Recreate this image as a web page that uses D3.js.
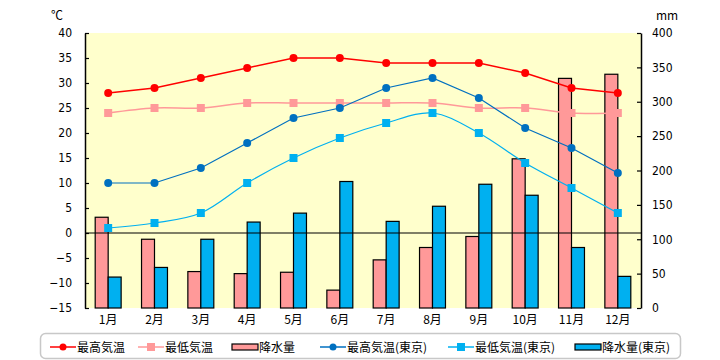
<!DOCTYPE html>
<html><head><meta charset="utf-8">
<script src="https://cdn.jsdelivr.net/npm/d3@7"></script>
<style>
html,body{margin:0;padding:0;background:#fff;}
svg{display:block;font-family:"Noto Sans CJK JP","DejaVu Sans",sans-serif;}
</style></head>
<body><svg id="c" width="720" height="360"></svg>
<script>
const months = ["1月","2月","3月","4月","5月","6月","7月","8月","9月","10月","11月","12月"];
const maxTemp = [28,29,31,33,35,35,34,34,34,32,29,28];
const minTemp = [24,25,25,26,26,26,26,26,25,25,24,24];
const rain = [132,100,53,50,52,26,70,88,104,217,334,340];
const maxTempTokyo = [10,10,13,18,23,25,29,31,27,21,17,12];
const minTempTokyo = [1,2,4,10,15,19,22,24,20,14,9,4];
const rainTokyo = [45,59,100,125,138,184,126,148,180,164,88,46];
const tempTicks = [-15,-10,-5,0,5,10,15,20,25,30,35,40];
const rainTicks = [0,50,100,150,200,250,300,350,400];

const svg = d3.select("#c");
const L=85, R=641, T=33, B=308;
const x = d3.scaleBand().domain(months).range([L,R]).padding(0);
const yT = d3.scaleLinear().domain([-15,40]).range([B,T]);
const yR = d3.scaleLinear().domain([0,400]).range([B,T]);
const bw = x.bandwidth();
const cx = m => x(m)+bw/2;
const barW = bw*0.28;

svg.append("rect").attr("x",L).attr("y",T).attr("width",R-L).attr("height",B-T).attr("fill","#FFFFCC");

// bars
svg.append("g").selectAll("rect").data(months).join("rect")
  .attr("x",m=>cx(m)-barW).attr("width",barW)
  .attr("y",(m,i)=>yR(rain[i])).attr("height",(m,i)=>yR(0)-yR(rain[i]))
  .attr("fill","#FF9999").attr("stroke","#000").attr("stroke-width",1.2);
svg.append("g").selectAll("rect").data(months).join("rect")
  .attr("x",m=>cx(m)).attr("width",barW)
  .attr("y",(m,i)=>yR(rainTokyo[i])).attr("height",(m,i)=>yR(0)-yR(rainTokyo[i]))
  .attr("fill","#00B0F0").attr("stroke","#000").attr("stroke-width",1.2);

// zero line
svg.append("line").attr("x1",L).attr("x2",R).attr("y1",yT(0)).attr("y2",yT(0)).attr("stroke","#000").attr("stroke-width",1.2);

// axes
const axL = svg.append("g").attr("transform",`translate(${L},0)`)
  .call(d3.axisLeft(yT).tickValues(tempTicks).tickSizeInner(-4).tickSizeOuter(0).tickPadding(13));
const axR = svg.append("g").attr("transform",`translate(${R},0)`)
  .call(d3.axisRight(yR).tickValues(rainTicks).tickSizeInner(-4).tickSizeOuter(0).tickPadding(11));
[axL,axR].forEach(a=>{
  a.selectAll("path").attr("stroke","#000").attr("stroke-width",1.5);
  a.selectAll("line").attr("stroke","#000").attr("stroke-width",1.2);
  a.selectAll("text").attr("font-size",12).attr("fill","#000").attr("font-family","'DejaVu Sans Condensed','DejaVu Sans',sans-serif");
});

// x labels
svg.append("g").selectAll("text").data(months).join("text")
  .attr("x",m=>cx(m)).attr("y",324).attr("text-anchor","middle").attr("font-size",12).text(d=>d);

svg.append("text").attr("x",57).attr("y",20).attr("text-anchor","middle").attr("font-size",12).text("℃");
svg.append("text").attr("x",667).attr("y",20).attr("text-anchor","middle").attr("font-size",12).text("mm");

// lines
function series(vals,color,curve,shape,width){
  const line = d3.line().x((d,i)=>cx(months[i])).y(d=>yT(d)).curve(curve);
  svg.append("path").datum(vals).attr("d",line).attr("fill","none").attr("stroke",color).attr("stroke-width",width);
  const g = svg.append("g");
  if(shape==="circle"){
    g.selectAll("circle").data(vals).join("circle").attr("cx",(d,i)=>cx(months[i])).attr("cy",d=>yT(d)).attr("r",4).attr("fill",color);
  } else {
    g.selectAll("rect").data(vals).join("rect").attr("x",(d,i)=>cx(months[i])-4).attr("y",d=>yT(d)-4).attr("width",8).attr("height",8).attr("fill",color);
  }
}
series(minTemp,"#FF9999",d3.curveCatmullRom,"square",1.5);
series(maxTemp,"#FF0000",d3.curveLinear,"circle",1.5);
series(minTempTokyo,"#00B0F0",d3.curveCatmullRom,"square",1.2);
series(maxTempTokyo,"#0070C0",d3.curveLinear,"circle",1.2);

// legend
const lg = svg.append("g");
lg.append("rect").attr("x",40.5).attr("y",333.5).attr("width",640).attr("height",25).attr("rx",5)
  .attr("fill","#fff").attr("stroke","#C8C8C8").attr("stroke-width",1.5);
const items = [
  {t:"最高気温",c:"#FF0000",k:"circle",x:50},
  {t:"最低気温",c:"#FF9999",k:"square",x:138},
  {t:"降水量",c:"#FF9999",k:"bar",x:232},
  {t:"最高気温(東京)",c:"#0070C0",k:"circle",x:320},
  {t:"最低気温(東京)",c:"#00B0F0",k:"square",x:448},
  {t:"降水量(東京)",c:"#00B0F0",k:"bar",x:575}
];
const ly=347;
items.forEach(it=>{
  if(it.k==="bar"){
    lg.append("rect").attr("x",it.x).attr("y",ly-3).attr("width",26).attr("height",6).attr("fill",it.c).attr("stroke","#000").attr("stroke-width",1.2);
  } else {
    lg.append("line").attr("x1",it.x).attr("x2",it.x+26).attr("y1",ly).attr("y2",ly).attr("stroke",it.c).attr("stroke-width",1.5);
    if(it.k==="circle") lg.append("circle").attr("cx",it.x+13).attr("cy",ly).attr("r",3.5).attr("fill",it.c);
    else lg.append("rect").attr("x",it.x+9).attr("y",ly-4).attr("width",8).attr("height",8).attr("fill",it.c);
  }
  lg.append("text").attr("x",it.x+27).attr("y",ly+4.5).attr("font-size",12).text(it.t);
});
</script></body></html>
